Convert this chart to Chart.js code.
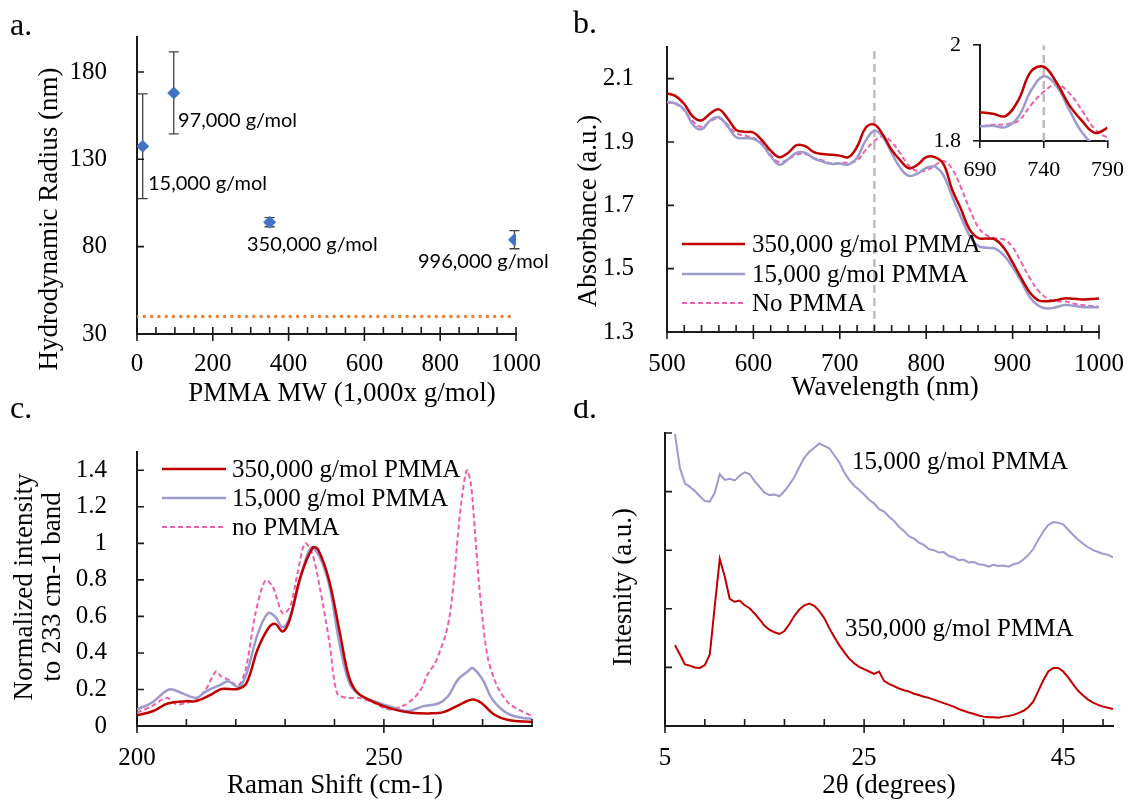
<!DOCTYPE html>
<html>
<head>
<meta charset="utf-8">
<script src="https://cdn.jsdelivr.net/npm/chart.js"></script>
<style>
  body { margin: 0; background: #fff; }
  #wrap { position: relative; width: 1133px; height: 801px; background: #fff; overflow: hidden; }
  canvas { position: absolute; }
</style>
</head>
<body>
<div id="wrap">
  <canvas id="chartC" width="560" height="401" style="left:0;top:400px;width:560px;height:401px"></canvas>
  <canvas id="chartD" width="573" height="401" style="left:560px;top:400px;width:573px;height:401px"></canvas>
  <canvas id="chartA" width="560" height="412" style="left:0;top:0;width:560px;height:412px"></canvas>
  <canvas id="chartB" width="573" height="412" style="left:560px;top:0;width:573px;height:412px"></canvas>
  <canvas id="chartInset" width="213" height="170" style="left:920px;top:20px;width:213px;height:170px"></canvas>
</div>
<script>
// ---- a. hydrodynamic radius vs PMMA MW
const mwValues = [15, 97, 350, 996]
const radiusValues = [137.5, 168, 94, 84]
const radiusErrors = [30, 23.5, 2.6, 5.2]
const mwLabels = ['15,000 g/mol', '97,000 g/mol', '350,000 g/mol', '996,000 g/mol']
const baselineRadius = 40
const mwTicks = [0, 200, 400, 600, 800, 1000]
const mwMinorTicks = [50, 100, 150, 250, 300, 350, 450, 500, 550, 650, 700, 750, 850, 900, 950]
const radiusTicks = [30, 80, 130, 180]

// ---- b. absorbance spectra
const wavelengths = [500, 510, 520, 530, 540, 550, 560, 570, 580, 590, 600, 610, 620, 630, 640, 650, 660, 670, 680, 690,
  700, 710, 720, 730, 740, 750, 760, 770, 780, 790, 800, 810, 820, 830, 840, 850, 860, 870, 880, 890,
  900, 910, 920, 930, 940, 950, 960, 970, 980, 990, 1000]
const abs350k = [2.053, 2.045, 2.02, 1.98, 1.968, 1.99, 2.003, 1.975, 1.938, 1.932, 1.93, 1.905, 1.873, 1.852, 1.865, 1.89, 1.887, 1.868, 1.862, 1.86,
  1.857, 1.852, 1.885, 1.945, 1.955, 1.922, 1.875, 1.842, 1.817, 1.828, 1.852, 1.852, 1.83, 1.75, 1.69, 1.625, 1.597, 1.595, 1.592, 1.565,
  1.52, 1.47, 1.425, 1.4, 1.397, 1.4, 1.406, 1.405, 1.403, 1.404, 1.406]
const abs15k = [2.027, 2.022, 2.003, 1.955, 1.94, 1.968, 1.978, 1.95, 1.915, 1.912, 1.91, 1.892, 1.855, 1.828, 1.845, 1.866, 1.866, 1.848, 1.838, 1.831,
  1.832, 1.829, 1.85, 1.905, 1.935, 1.915, 1.865, 1.818, 1.793, 1.8, 1.818, 1.822, 1.795, 1.728, 1.665, 1.605, 1.572, 1.566, 1.563, 1.542,
  1.505, 1.46, 1.41, 1.383, 1.374, 1.378, 1.385, 1.383, 1.379, 1.378, 1.378]
const absNoPmma = [2.025, 2.02, 2.0, 1.965, 1.948, 1.965, 1.975, 1.955, 1.928, 1.92, 1.913, 1.895, 1.86, 1.836, 1.845, 1.86, 1.862, 1.85, 1.842, 1.832,
  1.834, 1.835, 1.842, 1.875, 1.903, 1.918, 1.9, 1.864, 1.825, 1.808, 1.81, 1.826, 1.84, 1.815, 1.758, 1.69, 1.632, 1.605, 1.596, 1.592,
  1.568, 1.52, 1.47, 1.43, 1.406, 1.397, 1.397, 1.39, 1.385, 1.382, 1.38]
const markerWavelength = 740
const wavelengthTicks = [500, 600, 700, 800, 900, 1000]
const wavelengthMinorTicks = [520, 540, 560, 580, 620, 640, 660, 680, 720, 740, 760, 780, 820, 840, 860, 880, 920, 940, 960, 980]
const absTicks = [1.3, 1.5, 1.7, 1.9, 2.1]
const insetWavelengthTicks = [690, 740, 790]
const insetAbsTicks = [1.8, 2]

// ---- c. Raman spectra
const ramanShift350k = [200, 203.3, 206.2, 209.9, 212, 215, 217.1, 220.4, 222.2, 224.4, 226.6, 228, 229.5, 230.9, 233.1, 235.6, 236.7, 238.9, 241.1, 242.9,
  244.7, 248.3, 252, 255.6, 259.2, 262.1, 265, 267.9, 269.7, 272.3, 275.2, 280]
const raman350k = [0.058, 0.082, 0.123, 0.136, 0.136, 0.172, 0.203, 0.203, 0.236, 0.417, 0.535, 0.559, 0.517, 0.58, 0.816, 0.976, 0.965, 0.798, 0.508, 0.272,
  0.181, 0.127, 0.091, 0.073, 0.069, 0.076, 0.112, 0.145, 0.127, 0.063, 0.033, 0.022]
const ramanShift15k = [200, 203, 206.5, 209, 212, 214, 217, 218.5, 220.5, 222, 224.5, 226.5, 228, 229.5, 231, 233, 235.2, 237, 239, 241,
  243, 245, 248, 252, 255, 258, 261, 263, 265, 267, 268, 270, 272, 275, 278, 280]
const raman15k = [0.091, 0.127, 0.2, 0.181, 0.154, 0.19, 0.227, 0.245, 0.214, 0.272, 0.508, 0.617, 0.598, 0.54, 0.598, 0.798, 0.976, 0.925, 0.762, 0.453,
  0.236, 0.172, 0.136, 0.1, 0.082, 0.109, 0.123, 0.163, 0.254, 0.299, 0.317, 0.254, 0.145, 0.069, 0.045, 0.04]
const ramanShiftNoPmma = [200, 203, 206, 208, 210, 212, 214, 216, 217, 218.5, 220.5, 222, 224, 226, 227.5, 229.5, 231, 232.5, 234, 235.5,
  237, 239, 240.5, 242.5, 245, 248, 251, 254, 256, 257.5, 259, 260.3, 261.5, 262.5, 263.3, 264.2, 265, 265.8, 266.8, 267.6,
  268.4, 269.2, 270, 271, 272.3, 273.7, 275.5, 278, 280]
const ramanNoPmma = [0.073, 0.109, 0.154, 0.118, 0.127, 0.145, 0.203, 0.299, 0.272, 0.254, 0.221, 0.308, 0.617, 0.798, 0.762, 0.617, 0.653, 0.834, 1.0, 0.943,
  0.762, 0.453, 0.181, 0.154, 0.154, 0.127, 0.091, 0.112, 0.15, 0.2, 0.29, 0.34, 0.42, 0.5, 0.6, 0.8, 1.05, 1.25, 1.4, 1.33,
  1.08, 0.8, 0.58, 0.38, 0.26, 0.18, 0.12, 0.08, 0.055]
const shiftTicks = [200, 250]
const shiftMinorTicks = [210, 220, 230, 240, 260, 270, 280]
const ramanTicks = [0, 0.2, 0.4, 0.6, 0.8, 1, 1.2, 1.4]

// ---- d. XRD patterns
const twoTheta = [6, 6.5, 7, 7.5, 8, 8.5, 9, 9.5, 10, 10.5, 11, 11.5, 12, 12.5, 13, 13.5, 14, 14.5, 15, 15.5,
  16, 16.5, 17, 17.5, 18, 18.5, 19, 19.5, 20, 20.5, 21, 21.5, 22, 22.5, 23, 23.5, 24, 24.5, 25, 25.5,
  26, 26.5, 27, 27.5, 28, 28.5, 29, 29.5, 30, 30.5, 31, 31.5, 32, 32.5, 33, 33.5, 34, 34.5, 35, 35.5,
  36, 36.5, 37, 37.5, 38, 38.5, 39, 39.5, 40, 40.5, 41, 41.5, 42, 42.5, 43, 43.5, 44, 44.5, 45, 45.5,
  46, 46.5, 47, 47.5, 48, 48.5, 49, 49.5, 50]
const xrd15k = [4.98, 4.40, 4.14, 4.08, 4.01, 3.92, 3.84, 3.83, 3.98, 4.30, 4.20, 4.22, 4.19, 4.27, 4.33, 4.30, 4.18, 4.08, 3.98, 3.94,
  3.95, 3.92, 4.01, 4.12, 4.25, 4.42, 4.58, 4.68, 4.75, 4.82, 4.78, 4.74, 4.62, 4.50, 4.33, 4.20, 4.10, 4.03, 3.95, 3.86,
  3.80, 3.70, 3.66, 3.57, 3.50, 3.40, 3.33, 3.24, 3.20, 3.13, 3.09, 3.02, 3.00, 2.96, 2.97, 2.90, 2.88, 2.83, 2.84, 2.79,
  2.80, 2.76, 2.75, 2.72, 2.75, 2.73, 2.74, 2.72, 2.76, 2.78, 2.84, 2.92, 3.02, 3.18, 3.32, 3.43, 3.48, 3.47, 3.44, 3.35,
  3.26, 3.18, 3.11, 3.05, 3.00, 2.97, 2.94, 2.92, 2.88]
const xrd350k = [1.38, 1.22, 1.05, 1.03, 1.00, 0.99, 1.04, 1.22, 2.05, 2.85, 2.55, 2.17, 2.12, 2.14, 2.06, 2.01, 1.92, 1.82, 1.71, 1.64,
  1.60, 1.57, 1.62, 1.74, 1.88, 1.99, 2.06, 2.09, 2.05, 1.96, 1.84, 1.67, 1.52, 1.38, 1.26, 1.15, 1.07, 1.01, 0.97, 0.93,
  0.89, 0.93, 0.77, 0.72, 0.68, 0.64, 0.61, 0.59, 0.55, 0.53, 0.50, 0.48, 0.45, 0.42, 0.39, 0.36, 0.33, 0.29, 0.26, 0.23,
  0.21, 0.18, 0.16, 0.15, 0.15, 0.14, 0.16, 0.17, 0.19, 0.22, 0.26, 0.32, 0.42, 0.60, 0.78, 0.93, 0.99, 0.99, 0.93, 0.83,
  0.71, 0.60, 0.52, 0.45, 0.40, 0.36, 0.33, 0.31, 0.29]
const thetaTicks = [5, 25, 45]
const thetaMinorTicks = [9, 13, 17, 21, 29, 33, 37, 41, 49]
const intensityTicks = [1, 2, 3, 4, 5]

const AXIS = '#1a1a1a'
const RED = '#C00000'
const LAVENDER = '#9D9ACD'
const PINK = '#EE5EAA'
const SERIF = "'Liberation Serif', 'Times New Roman', serif"
const TITLE = '27px ' + SERIF

Chart.defaults.font.family = SERIF
Chart.defaults.font.size = 25
Chart.defaults.color = '#000'
Chart.defaults.animation = false
Chart.defaults.plugins.legend.display = false
Chart.defaults.plugins.tooltip.enabled = false

const pts = (xs, ys) => xs.map((x, i) => ({ x: x, y: ys[i] }))

// Excel style tick marks: minor inside, major crossing, y ticks inside
function makeTicks(xMajor, xMinor, yTicks) {
  return {
    id: 'tickMarks',
    afterDraw(chart) {
      const ctx = chart.ctx, xs = chart.scales.x, ys = chart.scales.y
      const b = chart.chartArea.bottom, l = chart.chartArea.left
      ctx.save()
      ctx.strokeStyle = AXIS
      ctx.lineWidth = 1.6
      ctx.beginPath()
      xMinor.forEach(v => { const p = xs.getPixelForValue(v); ctx.moveTo(p, b); ctx.lineTo(p, b - 7) })
      xMajor.forEach(v => { const p = xs.getPixelForValue(v); ctx.moveTo(p, b + 7); ctx.lineTo(p, b - 7) })
      yTicks.forEach(v => { const p = ys.getPixelForValue(v); ctx.moveTo(l, p); ctx.lineTo(l + 7, p) })
      ctx.stroke()
      ctx.restore()
    }
  }
}

// free text: titles, panel letters, annotations (page coordinates)
function makeText(items, ox, oy) {
  return {
    id: 'textLayer',
    afterDraw(chart) {
      const ctx = chart.ctx
      items.forEach(t => {
        ctx.save()
        ctx.font = t.font || TITLE
        ctx.fillStyle = '#000'
        ctx.textAlign = t.align || 'center'
        ctx.textBaseline = t.base || 'middle'
        ctx.translate(t.x - ox, t.y - oy)
        if (t.rot) ctx.rotate(-Math.PI / 2)
        ctx.fillText(t.text, 0, 0)
        ctx.restore()
      })
    }
  }
}

// in-plot legend drawn from the datasets
function makeLegend(x0, x1, xt, rows, ox, oy) {
  return {
    id: 'sideLegend',
    afterDraw(chart) {
      const ctx = chart.ctx
      chart.data.datasets.forEach((ds, i) => {
        if (!ds.label) return
        const y = rows[i] - oy
        ctx.save()
        ctx.strokeStyle = ds.borderColor
        ctx.lineWidth = ds.borderWidth
        ctx.setLineDash(ds.borderDash || [])
        ctx.beginPath(); ctx.moveTo(x0 - ox, y); ctx.lineTo(x1 - ox, y); ctx.stroke()
        ctx.setLineDash([])
        ctx.font = '25px ' + SERIF
        ctx.fillStyle = '#000'
        ctx.textAlign = 'left'
        ctx.textBaseline = 'middle'
        ctx.fillText(ds.label, xt - ox, y + 1)
        ctx.restore()
      })
    }
  }
}

function xAxis(min, max, ticks, height, pad, extra) {
  return Object.assign({
    type: 'linear', min: min, max: max,
    afterBuildTicks: s => { s.ticks = ticks.map(v => ({ value: v })) },
    afterFit: s => { s.height = height },
    grid: { display: false },
    border: { display: true, color: AXIS, width: 2 },
    ticks: { padding: pad, autoSkip: false, maxRotation: 0, callback: v => String(v) }
  }, extra || {})
}
function yAxis(min, max, ticks, width, pad, extra) {
  return Object.assign({
    type: 'linear', min: min, max: max,
    afterBuildTicks: s => { s.ticks = ticks.map(v => ({ value: v })) },
    afterFit: s => { s.width = width },
    grid: { display: false },
    border: { display: true, color: AXIS, width: 2 },
    ticks: { padding: pad, autoSkip: false, callback: v => String(v) }
  }, extra || {})
}

// ---------------- a.
const errorBars = {
  id: 'errorBars',
  beforeDatasetsDraw(chart) {
    const ctx = chart.ctx, xs = chart.scales.x, ys = chart.scales.y
    ctx.save()
    ctx.strokeStyle = '#404040'
    ctx.lineWidth = 1.3
    mwValues.forEach((m, i) => {
      const px = xs.getPixelForValue(m)
      const top = ys.getPixelForValue(radiusValues[i] + radiusErrors[i])
      const bot = ys.getPixelForValue(radiusValues[i] - radiusErrors[i])
      ctx.beginPath()
      ctx.moveTo(px, top); ctx.lineTo(px, bot)
      ctx.moveTo(px - 5, top); ctx.lineTo(px + 5, top)
      ctx.moveTo(px - 5, bot); ctx.lineTo(px + 5, bot)
      ctx.stroke()
    })
    ctx.restore()
  }
}
const LATO = "20px Lato, 'Open Sans', sans-serif"
new Chart(document.getElementById('chartA'), {
  type: 'scatter',
  data: {
    datasets: [{
      data: pts(mwValues, radiusValues),
      pointStyle: 'rectRot', pointRadius: 6.5, backgroundColor: '#4472C4', borderColor: '#4472C4', borderWidth: 0
    }, {
      data: [{ x: 0, y: baselineRadius }, { x: 1000, y: baselineRadius }],
      showLine: true, pointRadius: 0, borderColor: '#ED7D31', borderWidth: 3.5,
      borderDash: [0, 7.3], borderCapStyle: 'round'
    }]
  },
  options: {
    responsive: false,
    layout: { autoPadding: false, padding: { left: 0, top: 35, right: 44, bottom: 0 } },
    scales: {
      x: xAxis(0, 1000, mwTicks, 78, 7),
      y: yAxis(30, 200, radiusTicks, 137, 22)
    }
  },
  plugins: [errorBars, makeTicks(mwTicks, mwMinorTicks, radiusTicks.slice(1)), makeText([
    { text: 'a.', x: 10, y: 35, align: 'left', base: 'alphabetic', font: '32px ' + SERIF },
    { text: 'Hydrodynamic Radius (nm)', x: 50, y: 219, rot: true },
    { text: 'PMMA MW (1,000x g/mol)', x: 342, y: 394 },
    { text: mwLabels[1], x: 178, y: 121, align: 'left', font: LATO },
    { text: mwLabels[0], x: 148, y: 184, align: 'left', font: LATO },
    { text: mwLabels[2], x: 247, y: 245, align: 'left', font: LATO },
    { text: mwLabels[3], x: 418, y: 262, align: 'left', font: LATO }
  ], 0, 0)]
})

// ---------------- b.
function absDatasets(yMin, yMax) {
  return [
    { label: '350,000 g/mol PMMA', data: pts(wavelengths, abs350k), borderColor: RED, borderWidth: 2.5, pointRadius: 0, tension: 0.4 },
    { label: '15,000 g/mol PMMA', data: pts(wavelengths, abs15k), borderColor: LAVENDER, borderWidth: 2.5, pointRadius: 0, tension: 0.4 },
    { label: 'No PMMA', data: pts(wavelengths, absNoPmma), borderColor: PINK, borderWidth: 2, borderDash: [5, 3], pointRadius: 0, tension: 0.4 },
    { data: [{ x: markerWavelength, y: yMin }, { x: markerWavelength, y: yMax }], borderColor: '#BDBDBD', borderWidth: 2.5, borderDash: [8, 5], pointRadius: 0 }
  ]
}
new Chart(document.getElementById('chartB'), {
  type: 'line',
  data: { datasets: absDatasets(1.3, 2.2) },
  options: {
    responsive: false,
    layout: { autoPadding: false, padding: { left: 0, top: 47, right: 33, bottom: 0 } },
    scales: {
      x: xAxis(500, 1000, wavelengthTicks, 80, 9),
      y: yAxis(1.3, 2.2, absTicks, 107, 25)
    }
  },
  plugins: [makeTicks(wavelengthTicks, wavelengthMinorTicks, absTicks.slice(1)), makeLegend(682, 745, 752, [244, 274, 303], 560, 0), makeText([
    { text: 'b.', x: 573, y: 33, align: 'left', base: 'alphabetic', font: '32px ' + SERIF },
    { text: 'Absorbance (a.u.)', x: 589, y: 211, rot: true },
    { text: 'Wavelength (nm)', x: 885, y: 388 }
  ], 560, 0)]
})

// inset of b.
new Chart(document.getElementById('chartInset'), {
  type: 'line',
  data: { datasets: absDatasets(1.8, 2.0).map(d => Object.assign({}, d, { label: undefined })) },
  options: {
    responsive: false,
    layout: { autoPadding: false, padding: { left: 0, top: 20, right: 21, bottom: 0 } },
    scales: {
      x: xAxis(690, 790, insetWavelengthTicks, 49, 9, {
        grid: { display: true, drawOnChartArea: false, drawTicks: true, tickLength: 7, color: AXIS, lineWidth: 1.6 },
        ticks: { padding: 9, font: { size: 22 }, autoSkip: false, maxRotation: 0, callback: v => String(v) }
      }),
      y: yAxis(1.8, 2.0, insetAbsTicks, 60, 13, {
        grid: { display: true, drawOnChartArea: false, drawTicks: true, tickLength: 7, color: AXIS, lineWidth: 1.6 },
        ticks: { padding: 12, font: { size: 22 }, autoSkip: false, callback: v => String(v) }
      })
    }
  }
})

// ---------------- c.
new Chart(document.getElementById('chartC'), {
  type: 'line',
  data: {
    datasets: [
      { label: '350,000 g/mol PMMA', data: pts(ramanShift350k, raman350k), borderColor: RED, borderWidth: 2.5, pointRadius: 0, tension: 0.35 },
      { label: '15,000 g/mol PMMA', data: pts(ramanShift15k, raman15k), borderColor: LAVENDER, borderWidth: 2.5, pointRadius: 0, tension: 0.35 },
      { label: 'no PMMA', data: pts(ramanShiftNoPmma, ramanNoPmma), borderColor: PINK, borderWidth: 2, borderDash: [5, 3], pointRadius: 0, tension: 0.3 }
    ]
  },
  options: {
    responsive: false,
    layout: { autoPadding: false, padding: { left: 0, top: 52, right: 28, bottom: 0 } },
    scales: {
      x: xAxis(200, 280, shiftTicks, 75, 9),
      y: yAxis(0, 1.5, ramanTicks, 137, 22)
    }
  },
  plugins: [makeTicks(shiftTicks, shiftMinorTicks, ramanTicks.slice(1)), makeLegend(162, 226, 232, [469, 498, 527], 0, 400), makeText([
    { text: 'c.', x: 10, y: 418, align: 'left', base: 'alphabetic', font: '32px ' + SERIF },
    { text: 'Normalized intensity', x: 25, y: 587, rot: true },
    { text: 'to 233 cm-1 band', x: 53, y: 587, rot: true },
    { text: 'Raman Shift (cm-1)', x: 335, y: 786 }
  ], 0, 400)]
})

// ---------------- d.
new Chart(document.getElementById('chartD'), {
  type: 'line',
  data: {
    datasets: [
      { data: pts(twoTheta, xrd15k), borderColor: LAVENDER, borderWidth: 2, pointRadius: 0, tension: 0 },
      { data: pts(twoTheta, xrd350k), borderColor: RED, borderWidth: 2, pointRadius: 0, tension: 0 }
    ]
  },
  options: {
    responsive: false,
    layout: { autoPadding: false, padding: { left: 0, top: 33, right: 20, bottom: 0 } },
    scales: {
      x: xAxis(5, 50, thetaTicks, 75, 9),
      y: yAxis(0, 5, intensityTicks, 105, 22, { ticks: { display: false } })
    }
  },
  plugins: [makeTicks(thetaTicks, thetaMinorTicks, intensityTicks), makeText([
    { text: 'd.', x: 573, y: 418, align: 'left', base: 'alphabetic', font: '32px ' + SERIF },
    { text: 'Intesnity (a.u.)', x: 624, y: 587, rot: true },
    { text: '2θ (degrees)', x: 889, y: 786 },
    { text: '15,000 g/mol PMMA', x: 852, y: 462, align: 'left', font: '25px ' + SERIF },
    { text: '350,000 g/mol PMMA', x: 845, y: 629, align: 'left', font: '25px ' + SERIF }
  ], 560, 400)]
})
</script>
</body>
</html>
